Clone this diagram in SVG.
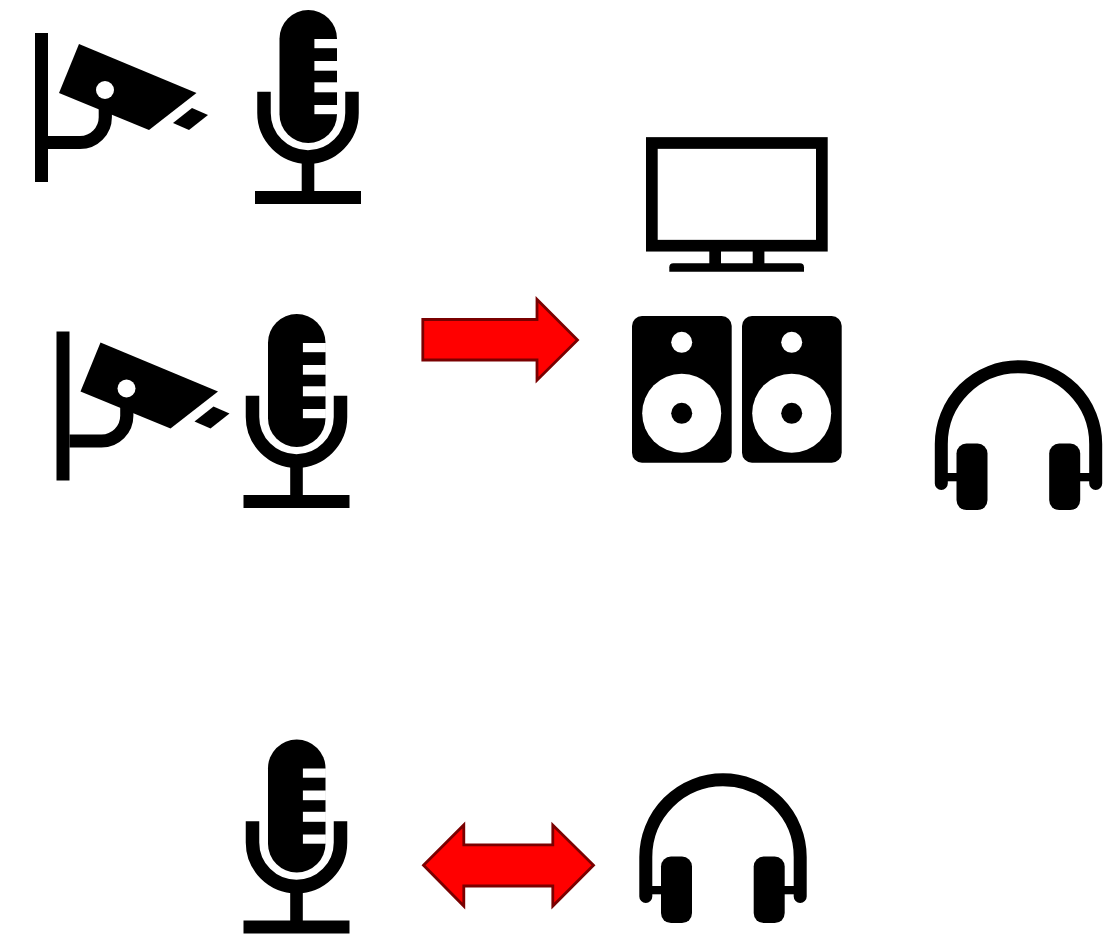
<svg xmlns="http://www.w3.org/2000/svg" width="1114" height="934" viewBox="0 0 1114 934">
<style>
.k{fill:#000}.w{fill:#fff}.ln{fill:none;stroke:#000}
.arrow{fill:#f00;stroke:#7a0000;stroke-width:2.800}
</style>
<defs>
<g id="camera">
<rect class="k" x="35" y="33" width="13" height="149"/>
<path class="ln" stroke-width="13.200" d="M48,142.500H80a25.300,25.300 0 0 0 25.300,-25.300V105"/>
<polygon class="k" points="79,44 196.500,93 149,130 59,93"/>
<circle class="w" cx="105" cy="90" r="9"/>
<polygon class="k" points="192,108 208,115 189,130 173,123"/>
</g>
<g id="mic">
<rect class="k" x="279.500" y="10" width="57.500" height="133" rx="28.700"/>
<rect class="w" x="314.400" y="39" width="23" height="9.200"/>
<rect class="w" x="314.400" y="61" width="23" height="9.700"/>
<rect class="w" x="314.400" y="82.300" width="23" height="10"/>
<rect class="w" x="314.400" y="105" width="23" height="9.200"/>
<path class="ln" stroke-width="13.500" d="M264,91.700V113a44,44 0 0 0 88,0V91.700"/>
<rect class="k" x="301.700" y="163" width="12.600" height="29"/>
<rect class="k" x="255" y="191" width="106" height="13"/>
</g>
<g id="headphones">
<path class="ln" stroke-width="13" stroke-linecap="round" d="M645.800,896.500V857a77.200,77.200 0 0 1 154.400,0V896.500"/>
<rect class="k" x="650" y="886" width="12" height="8.300"/>
<rect class="k" x="784" y="886" width="12" height="8.300"/>
<rect class="k" x="661" y="856.500" width="31" height="66.600" rx="10"/>
<rect class="k" x="753.700" y="856.500" width="31" height="66.600" rx="10"/>
</g>
<g id="speaker">
<rect class="k" x="632" y="316" width="99.700" height="146.700" rx="10"/>
<circle class="w" cx="681.700" cy="342.300" r="10.500"/>
<circle class="w" cx="681.700" cy="413.300" r="39.500"/>
<circle class="k" cx="681.700" cy="413.300" r="10.500"/>
</g>
</defs>
<rect width="1114" height="934" fill="#fff"/>
<g id="camera-1"><use href="#camera"/></g>
<g id="mic-1"><use href="#mic"/></g>
<g id="camera-2"><use href="#camera" transform="translate(21.500,298.500)"/></g>
<g id="mic-2"><use href="#mic" transform="translate(-11.500,304)"/></g>
<g id="tv">
<rect x="651.850" y="143" width="170" height="102.700" fill="none" stroke="#000" stroke-width="11.700"/>
<rect class="k" x="709.300" y="251" width="11.700" height="14"/>
<rect class="k" x="752.700" y="251" width="11.700" height="14"/>
<path class="k" d="M669.300,271.700V267.300a4,4 0 0 1 4,-4H800a4,4 0 0 1 4,4V271.700Z"/>
</g>
<g id="speaker-left"><use href="#speaker"/></g>
<g id="speaker-right"><use href="#speaker" transform="translate(110,0)"/></g>
<g id="headphones-1"><use href="#headphones" transform="translate(295.500,-413)"/></g>
<g id="mic-3"><use href="#mic" transform="translate(-11.500,729.500)"/></g>
<g id="headphones-2"><use href="#headphones"/></g>
<g id="connectors">
<polygon class="arrow" points="422.800,319.500 537,319.500 537,299.500 577.500,340 537,380.200 537,360 422.800,360"/>
<polygon class="arrow" points="423.500,865.300 463.800,825 463.800,844.800 552.800,844.800 552.800,825 593.500,865.300 552.800,906 552.800,886 463.800,886 463.800,906"/>
</g>
</svg>
